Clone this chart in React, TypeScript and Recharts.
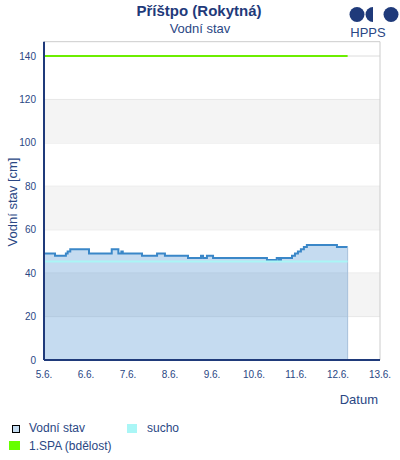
import React from "react";
import {
  ComposedChart,
  Area,
  Line,
  XAxis,
  YAxis,
  CartesianGrid,
  ReferenceArea,
  ReferenceLine,
} from "recharts";

// hours since 5.6. 00:00
const hours = [0, 6.3, 12.5, 13.5, 15, 25.7, 38.7, 42.5, 44.2, 45, 56, 64.6, 69.1, 82.3, 89.7, 90.9, 93.1, 96.6, 127.4, 133, 134.3, 135.4, 141.7, 143.4, 145.1, 146.8, 148.5, 150.2, 167.4, 173.5];
const levels = [49, 48, 49, 50, 51, 49, 51, 49, 50, 49, 48, 49, 48, 47, 48, 47, 48, 47, 46, 47, 46, 47, 48, 49, 50, 51, 52, 53, 52, 52];
const SUCHO = 45.4;
const SPA = 140;

const xTicks = [0, 24, 48, 72, 96, 120, 144, 168, 192];
const xLabels = ["5.6.", "6.6.", "7.6.", "8.6.", "9.6.", "10.6.", "11.6.", "12.6.", "13.6."];
const yTicks = [0, 20, 40, 60, 80, 100, 120, 140];
const bands = [
  [20, 40],
  [60, 80],
  [100, 120],
];

const data = hours.map((h, i) => ({ t: h, stav: levels[i], sucho: SUCHO, spa: SPA }));
const lastHour = hours[hours.length - 1];
const lastLevel = levels[levels.length - 1];

const NAVY = "#1f3a7a";
const TXT = "#2a4784";
const FONT = "'Liberation Sans', Arial, sans-serif";

export default function App() {
  return (
    <div style={{ position: "absolute", left: 0, top: 0, width: 400, height: 460, fontFamily: FONT, background: "#fff" }}>
      <ComposedChart
        width={400}
        height={460}
        data={data}
        margin={{ top: 41.7, right: 20, bottom: 70, left: 0 }}
      >
        {bands.map(([a, b]) => (
          <ReferenceArea key={a} y1={a} y2={b} fill="#f4f4f4" fillOpacity={1} stroke="none" />
        ))}
        <CartesianGrid vertical={false} stroke="#dcdcdc" horizontalValues={yTicks} />
        <ReferenceLine y={146.6} stroke="#cccccc" strokeWidth={1} ifOverflow="visible" />
        <ReferenceLine x={192} stroke="#cccccc" strokeWidth={1} ifOverflow="visible" />
        <XAxis
          dataKey="t"
          type="number"
          domain={[0, 192]}
          ticks={xTicks}
          tickFormatter={(v: number) => xLabels[xTicks.indexOf(v)] ?? ""}
          tickLine={false}
          tickMargin={5}
          axisLine={{ stroke: NAVY, strokeWidth: 2 }}
          tick={{ fill: TXT, fontSize: 10, fontFamily: FONT }}
          height={30}
          interval={0}
        />
        <YAxis
          type="number"
          domain={[0, 146.6]}
          ticks={yTicks}
          tickLine={false}
          axisLine={{ stroke: NAVY, strokeWidth: 2 }}
          tick={{ fill: TXT, fontSize: 10, fontFamily: FONT }}
          width={44}
          interval={0}
          allowDataOverflow
        />
        <Area
          type="stepAfter"
          dataKey="stav"
          stroke="#3a87c8"
          strokeWidth={2}
          fill="#4a90d0"
          fillOpacity={0.32}
          isAnimationActive={false}
          dot={false}
          activeDot={false}
        />
        <ReferenceLine
          segment={[
            { x: lastHour, y: 0 },
            { x: lastHour, y: lastLevel },
          ]}
          stroke="#a6c0db"
          strokeWidth={1}
        />
        <Line
          type="stepAfter"
          dataKey="sucho"
          stroke="#aaf6f6"
          strokeWidth={2}
          dot={false}
          activeDot={false}
          isAnimationActive={false}
        />
        <Line
          type="stepAfter"
          dataKey="spa"
          stroke="#6cee00"
          strokeWidth={2}
          dot={false}
          activeDot={false}
          isAnimationActive={false}
        />
      </ComposedChart>
      <svg
        width={400}
        height={460}
        style={{ position: "absolute", left: 0, top: 0, pointerEvents: "none" }}
      >
        <text x={199} y={16} textAnchor="middle" fontSize={15} fontWeight="bold" fill={NAVY} fontFamily={FONT}>
          Příštpo (Rokytná)
        </text>
        <text x={200} y={33} textAnchor="middle" fontSize={13} fill={TXT} fontFamily={FONT}>
          Vodní stav
        </text>
        <circle cx={357} cy={14.5} r={7.5} fill={NAVY} />
        <path d="M373,7 A7.5,7.5 0 0 0 373,22 Z" fill={NAVY} />
        <circle cx={391} cy={14.5} r={7.5} fill={NAVY} />
        <text x={368} y={37} textAnchor="middle" fontSize={13} fill={TXT} fontFamily={FONT}>
          HPPS
        </text>
        <text
          x={17}
          y={202}
          transform="rotate(-90 17 202)"
          textAnchor="middle"
          fontSize={13}
          fill={TXT}
          fontFamily={FONT}
        >
          Vodní stav [cm]
        </text>
        <text x={378} y={404} textAnchor="end" fontSize={13} fill={TXT} fontFamily={FONT}>
          Datum
        </text>
        <rect x={12.5} y={425.5} width={7} height={7} fill="#c5dcf0" stroke="#000" strokeWidth={1} />
        <text x={29} y={432} fontSize={12} fill={TXT} fontFamily={FONT}>
          Vodní stav
        </text>
        <rect x={127} y={424} width={10} height={9} fill="#aaf6f6" />
        <text x={147} y={432} fontSize={12} fill={TXT} fontFamily={FONT}>
          sucho
        </text>
        <rect x={9} y={441} width={11} height={9} fill="#66ff00" />
        <text x={29} y={450} fontSize={12} fill={TXT} fontFamily={FONT}>
          1.SPA (bdělost)
        </text>
      </svg>
    </div>
  );
}
